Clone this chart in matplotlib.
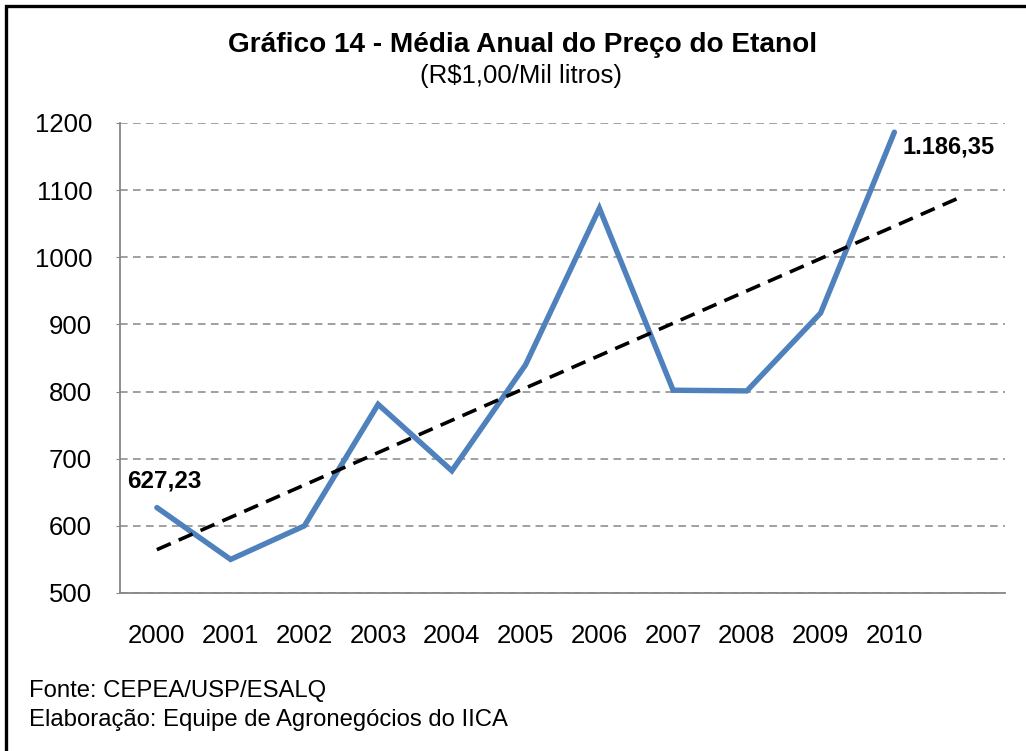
import matplotlib
matplotlib.use("Agg")
import matplotlib.pyplot as plt
import numpy as np
from matplotlib.patches import Rectangle

plt.rcParams['font.family'] = ['Liberation Sans', 'DejaVu Sans']

# ---- data ----
years = ['2000', '2001', '2002', '2003', '2004', '2005', '2006', '2007', '2008', '2009', '2010']
prices = [627.23, 550, 600, 781, 682, 840, 1073, 802, 801, 917, 1186.35]
first_label = '627,23'
last_label = '1.186,35'
y_ticks = [500, 600, 700, 800, 900, 1000, 1100, 1200]
title = 'Gráfico 14 - Média Anual do Preço do Etanol'
subtitle = '(R$1,00/Mil litros)'
source_lines = ['Fonte: CEPEA/USP/ESALQ', 'Elaboração: Equipe de Agronegócios do IICA']
trend_forward = 0.85  # periods of forecast for trendline

W, H = 1026, 751
fig = plt.figure(figsize=(W / 100, H / 100), dpi=100)
fig.patch.set_facecolor('white')

# outer frame
fig.patches.append(Rectangle((6 / W, -0.05), 1.2, (H - 6) / H + 0.05, transform=fig.transFigure,
                             fill=False, edgecolor='black', linewidth=2.4, zorder=0))

ax = fig.add_axes([120 / W, (H - 593) / H, (1005 - 120) / W, (593 - 123) / H])
x = np.arange(len(years))

ax.plot(x, prices, color='#4F81BD', linewidth=3.9, solid_capstyle='round',
        solid_joinstyle='miter', zorder=3)

# linear trendline
coef = np.polyfit(x, prices, 1)
xt = np.array([0, len(years) - 1 + trend_forward])
ax.plot(xt, np.polyval(coef, xt), color='black', linewidth=2.6, dashes=(4.2, 2.4),
        zorder=4)

ax.set_xlim(-0.5, len(years) + 0.5)
ax.set_ylim(y_ticks[0], y_ticks[-1])
ax.set_yticks(y_ticks)
ax.set_yticklabels([str(v) for v in y_ticks])
ax.set_xticks(x)
ax.set_xticklabels(years)

ax.grid(axis='y', color='#868686', linestyle=(0, (5, 3.5)), linewidth=1.1)
ax.set_axisbelow(True)
for s in ['top', 'right']:
    ax.spines[s].set_visible(False)
for s in ['left', 'bottom']:
    ax.spines[s].set_color('#868686')
    ax.spines[s].set_linewidth(1.3)
ax.tick_params(axis='y', length=3, color='#868686', labelsize=18.5, pad=17)
ax.tick_params(axis='x', length=0, labelsize=18.5, pad=22)

ax.annotate(first_label, (x[0], prices[0]), xytext=(5, 11), textcoords='offset points',
            ha='center', va='bottom', fontsize=17.5, fontweight='bold')
ax.annotate(last_label, (x[-1], prices[-1]), xytext=(6, -11), textcoords='offset points',
            ha='left', va='center', fontsize=17, fontweight='bold')

fig.text(523 / W, 1 - 45 / H, title, ha='center', va='center', fontsize=20.2, fontweight='bold')
fig.text(521 / W, 1 - 76 / H, subtitle, ha='center', va='center', fontsize=18.5)
fig.text(29 / W, 1 - 691 / H, source_lines[0], ha='left', va='center', fontsize=17.2)
fig.text(29 / W, 1 - 720 / H, source_lines[1], ha='left', va='center', fontsize=17.2)

fig.savefig('out.png', dpi=100, facecolor='white')
